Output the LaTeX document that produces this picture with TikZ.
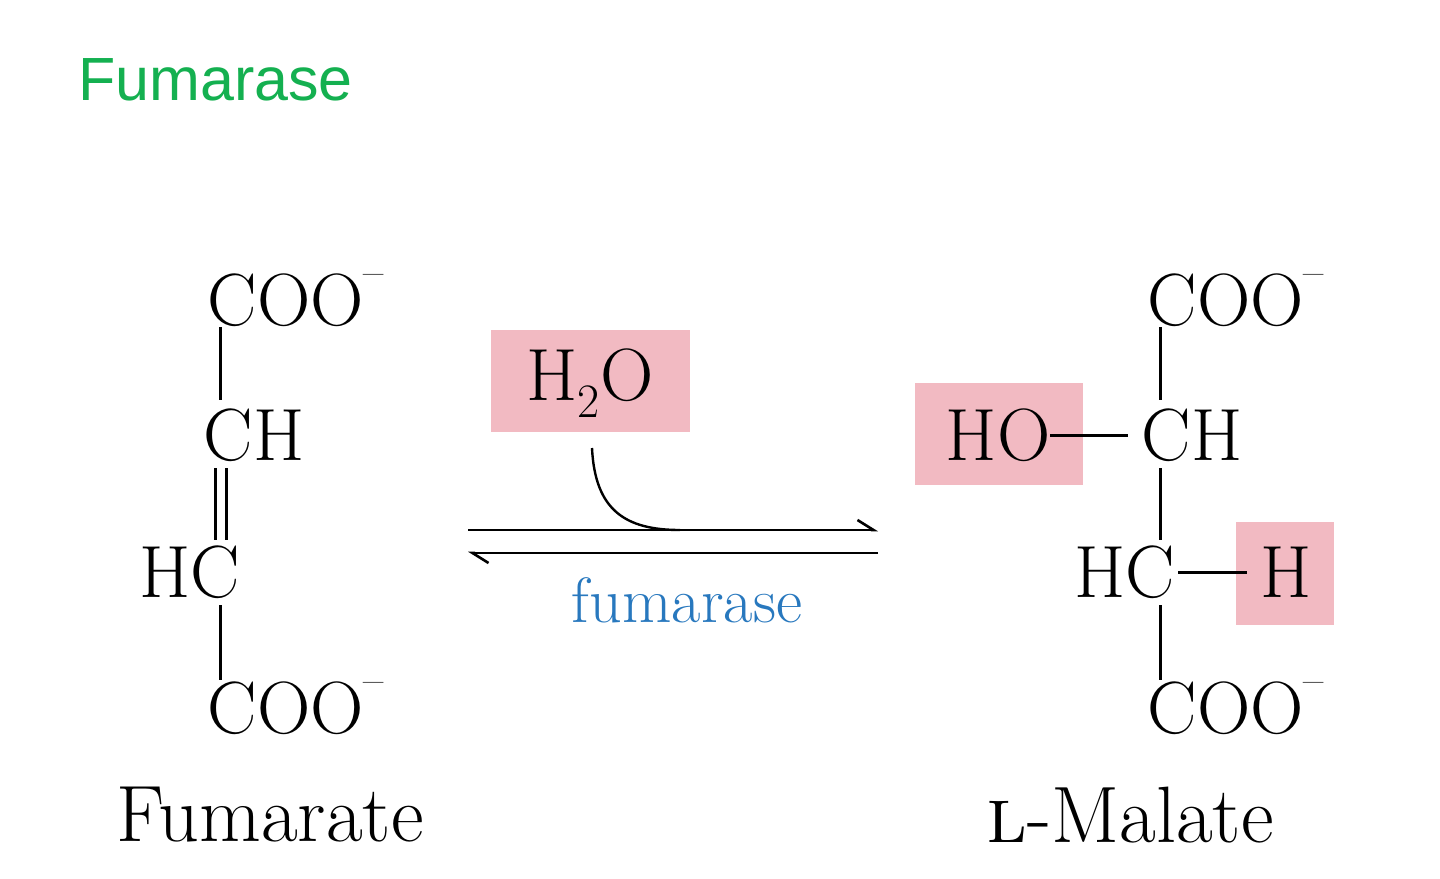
\documentclass[tikz,border=0pt]{standalone}
\usepackage{fontspec}
\newfontfamily\titlefont{Liberation Sans}
\usetikzlibrary{arrows.meta}
\definecolor{pinkbox}{RGB}{242,186,194}
\definecolor{titlegreen}{RGB}{20,176,80}
\definecolor{enzblue}{RGB}{40,120,190}
\newcommand{\supminus}{\raisebox{0.52em}{\fontsize{44}{44}\selectfont\textendash}}
\newcommand{\subtwo}{\raisebox{-0.22em}{\fontsize{48}{48}\selectfont 2}}
\begin{document}
\begin{tikzpicture}[x=1pt,y=-1pt,
  chem/.style={inner sep=0pt,font=\fontsize{74}{78}\selectfont},
  lbl/.style={inner sep=0pt,font=\fontsize{80}{84}\selectfont},
  bond/.style={line width=3pt},
  hl/.style={fill=pinkbox,draw=none},
  rxn/.style={line width=2.6pt}]
\useasboundingbox (0,0) rectangle (1440,878);
\node[inner sep=0pt,font=\titlefont\fontsize{61}{64}\selectfont,text=titlegreen,anchor=west] (title) at (78,80) {Fumarase};
% Fumarate
\node[chem] (f1) at (296,300) {COO\supminus};
\node[chem] (f2) at (254,435) {CH};
\node[chem] (f3) at (190,572) {HC};
\node[chem] (f4) at (296,708) {COO\supminus};
\node[lbl] (fl) at (270,815) {Fumarate};
\draw[bond] (220,327) -- (220,400);
\draw[bond] (215,468) -- (215,540);
\draw[bond] (226,468) -- (226,540);
\draw[bond] (220,605) -- (220,680);
% H2O
\fill[hl] (491,330) rectangle (690,432);
\node[chem] (w) at (590,383) {H\subtwo O};
% arrows
\coordinate (a1) at (468,530); \coordinate (a2) at (878,530);
\coordinate (b1) at (878,553); \coordinate (b2) at (468,553);
\draw[rxn,-{Straight Barb[left,length=16pt,width=20pt]}] (a1) -- (a2);
\draw[rxn,-{Straight Barb[left,length=16pt,width=20pt]}] (b1) -- (b2);
\draw[line width=2.4pt] (592,448) .. controls (595,510) and (625,530) .. (680,530);
\node[inner sep=0pt,font=\fontsize{64}{68}\selectfont,text=enzblue] (enz) at (687,600) {fumarase};
% Malate
\fill[hl] (915,383) rectangle (1083,485);
\fill[hl] (1236,522) rectangle (1334,625);
\node[chem] (m1) at (1236,300) {COO\supminus};
\node[chem] (m2) at (1192,435) {CH};
\node[chem] (ho) at (998,435) {HO};
\node[chem] (m3) at (1125,572) {HC};
\node[chem] (h) at (1286,572) {H};
\node[chem] (m4) at (1236,708) {COO\supminus};
\node[lbl] (ml) at (1130,815) {\textsc{l}-Malate};
\draw[bond] (1160,327) -- (1160,400);
\draw[bond] (1160,468) -- (1160,540);
\draw[bond] (1160,605) -- (1160,680);
\draw[bond] (ho.east) -- (1128,435);
\draw[bond] (1178,572) -- (1247,572);
\end{tikzpicture}
\end{document}
